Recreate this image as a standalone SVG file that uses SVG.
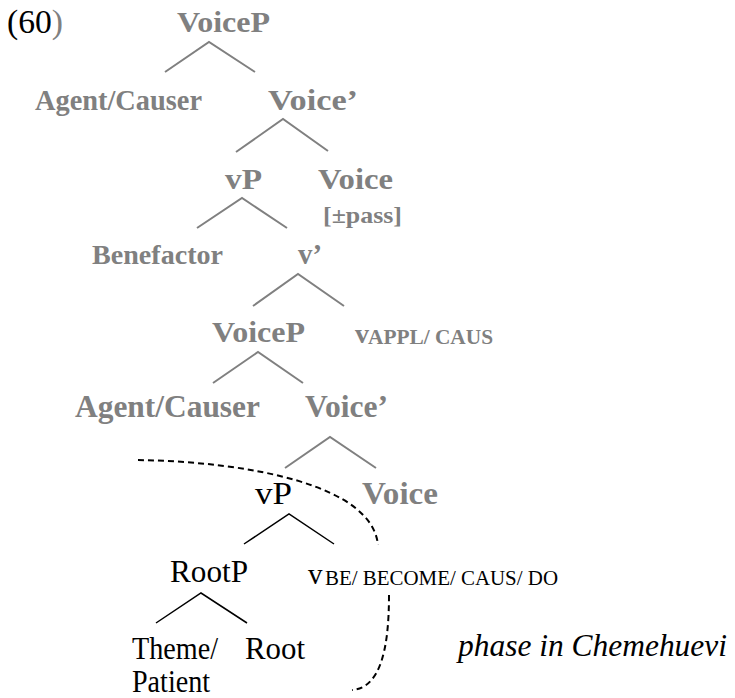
<svg xmlns="http://www.w3.org/2000/svg" width="735" height="698" viewBox="0 0 735 698">
  <style>
    text { font-family: "Liberation Serif", "Times New Roman", serif; }
    .g { fill: #808080; font-weight: bold; }
    .k { fill: #000000; }
    .gl { stroke: #808080; stroke-width: 2; fill: none; }
    .kl { stroke: #000000; stroke-width: 1.5; fill: none; }
    .dash { stroke: #000000; stroke-width: 2; fill: none; stroke-dasharray: 6 4; }
  </style>
  <rect width="735" height="698" fill="#ffffff"/>

  <!-- example number -->
  <g id="label-60">
    <text x="7" y="33" font-size="33" class="k" textLength="56" lengthAdjust="spacingAndGlyphs">(60<tspan fill="#808080">)</tspan></text>
  </g>

  <!-- tree edges -->
  <g id="edges">
    <path class="gl" d="M165,72 L209,42 L255,72"/>
    <path class="gl" d="M236,152 L283,119 L328,151"/>
    <path class="gl" d="M197,228 L242,198 L287,228"/>
    <path class="gl" d="M253,306 L298,274 L344,306"/>
    <path class="gl" d="M213,383 L258,352 L303,383"/>
    <path class="gl" d="M285,468 L330,437 L376,468"/>
    <path class="kl" d="M244,544 L289,514 L334,544"/>
    <path class="kl" d="M156,623 L201,593 L247,623"/>
    <!-- phase boundary -->
    <path class="dash" d="M138,460 C250,462 372,485 378,545"/>
    <path class="dash" d="M389,595 C389,650 380,688 352,690"/>
  </g>

  <g id="n-voiceP-1"><text x="177" y="32" font-size="29" class="g" textLength="93" lengthAdjust="spacingAndGlyphs">VoiceP</text></g>
  <g id="n-agent-1"><text x="35" y="110" font-size="28.5" class="g" textLength="167" lengthAdjust="spacingAndGlyphs">Agent/Causer</text></g>
  <g id="n-voicebar-1"><text x="268" y="110" font-size="29" class="g" textLength="90" lengthAdjust="spacingAndGlyphs">Voice’</text></g>
  <g id="n-vP-1"><text x="225" y="189" font-size="30" class="g" textLength="37" lengthAdjust="spacingAndGlyphs">vP</text></g>
  <g id="n-voice-1">
    <text x="318" y="189" font-size="29" class="g" textLength="75" lengthAdjust="spacingAndGlyphs">Voice</text>
    <text x="323" y="223" font-size="24" class="g" textLength="79" lengthAdjust="spacingAndGlyphs">[±pass]</text>
  </g>
  <g id="n-benefactor"><text x="92" y="264" font-size="28" class="g" textLength="131" lengthAdjust="spacingAndGlyphs">Benefactor</text></g>
  <g id="n-vbar"><text x="298" y="264" font-size="29" class="g" textLength="24" lengthAdjust="spacingAndGlyphs">v’</text></g>
  <g id="n-voiceP-2"><text x="212" y="342" font-size="30" class="g" textLength="93" lengthAdjust="spacingAndGlyphs">VoiceP</text></g>
  <g id="n-vappl"><text x="355" y="343" font-size="28" class="g">v<tspan x="368" font-size="20" dy="1" textLength="125" lengthAdjust="spacingAndGlyphs">APPL/ CAUS</tspan></text></g>
  <g id="n-agent-2"><text x="75" y="417" font-size="31" class="g" textLength="185" lengthAdjust="spacingAndGlyphs">Agent/Causer</text></g>
  <g id="n-voicebar-2"><text x="305" y="417" font-size="31" class="g" textLength="83" lengthAdjust="spacingAndGlyphs">Voice’</text></g>
  <g id="n-vP-2"><text x="255" y="504" font-size="31" class="k" textLength="37" lengthAdjust="spacingAndGlyphs">vP</text></g>
  <g id="n-voice-2"><text x="362" y="504" font-size="31" class="g" textLength="76" lengthAdjust="spacingAndGlyphs">Voice</text></g>
  <g id="n-rootP"><text x="170" y="582" font-size="31" class="k" textLength="78" lengthAdjust="spacingAndGlyphs">RootP</text></g>
  <g id="n-vbe"><text x="308" y="584" font-size="29" class="k">v<tspan x="325" font-size="20" dy="1" textLength="233" lengthAdjust="spacingAndGlyphs">BE/ BECOME/ CAUS/ DO</tspan></text></g>
  <g id="n-theme">
    <text x="132" y="659" font-size="31" class="k" textLength="86" lengthAdjust="spacingAndGlyphs">Theme/</text>
    <text x="132" y="692" font-size="31" class="k" textLength="78" lengthAdjust="spacingAndGlyphs">Patient</text>
  </g>
  <g id="n-root"><text x="245" y="659" font-size="31" class="k" textLength="60" lengthAdjust="spacingAndGlyphs">Root</text></g>
  <g id="phase-note"><text x="458" y="656" font-size="31.5" font-style="italic" class="k" textLength="269" lengthAdjust="spacingAndGlyphs">phase in Chemehuevi</text></g>
</svg>
